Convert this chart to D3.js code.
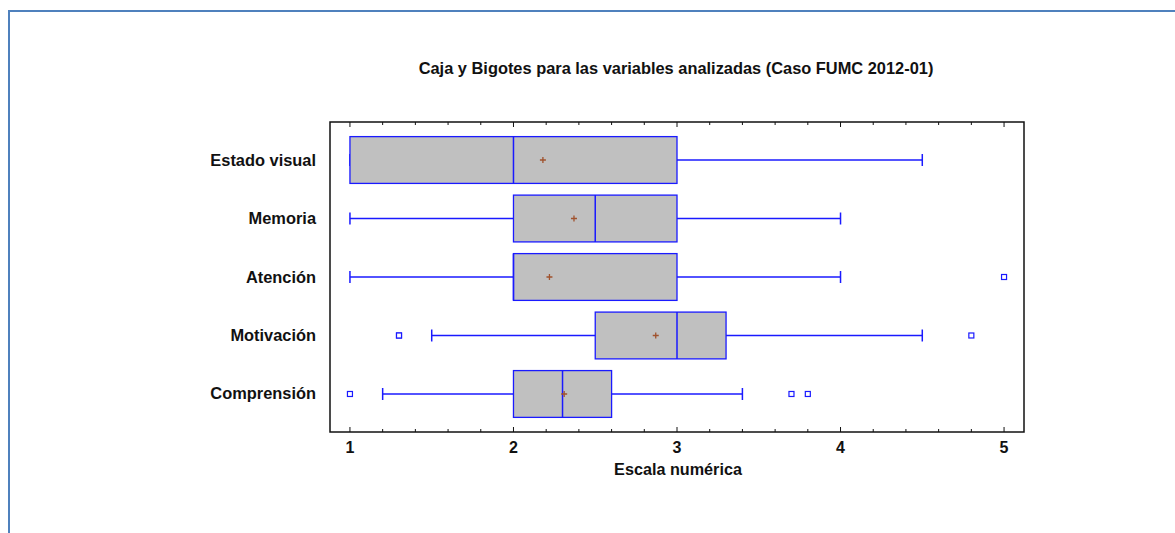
<!DOCTYPE html>
<html>
<head>
<meta charset="utf-8">
<script src="https://cdn.jsdelivr.net/npm/d3@7"></script>
<style>
body { margin: 0; background: #fff; }
svg text { font-family: "Liberation Sans", Arial, sans-serif; font-weight: bold; fill: #111; }
</style>
</head>
<body>
<div id="chart"></div>
<script>
var width = 1175;
var height = 533;

// one entry per box, top to bottom
var categories = ["Estado visual", "Memoria", "Atención", "Motivación", "Comprensión"];
var whiskerLow = [1, 1, 1, 1.5, 1.2];
var q1 = [1, 2, 2, 2.5, 2];
var medians = [2, 2.5, 2, 3, 2.3];
var q3 = [3, 3, 3, 3.3, 2.6];
var whiskerHigh = [4.5, 4, 4, 4.5, 3.4];
var means = [2.18, 2.37, 2.22, 2.87, 2.31];
var outliers = [[], [], [5], [1.3, 1.3, 4.8], [1, 3.7, 3.8]];
var xTicks = [1, 2, 3, 4, 5];

var title = "Caja y Bigotes para las variables analizadas (Caso FUMC 2012-01)";
var xTitle = "Escala numérica";

var plot = {left: 330, top: 122, right: 1024, bottom: 432};

var svg = d3.select("#chart").append("svg")
	.attr("width", width)
	.attr("height", height);

// outer blue frame (only left and top visible)
svg.append("path")
	.attr("d", "M9," + height + " V11 H" + width)
	.attr("fill", "none")
	.attr("stroke", "#4f81bd")
	.attr("stroke-width", 2);

var x = d3.scaleLinear()
	.domain([0.878, 5.122])
	.range([plot.left, plot.right]);

var y = d3.scalePoint()
	.domain(categories)
	.range([plot.top, plot.bottom])
	.padding(0.65);

var boxH = y.step() * 0.8;
var capH = 12;

// plot frame
svg.append("rect")
	.attr("x", plot.left)
	.attr("y", plot.top)
	.attr("width", plot.right - plot.left)
	.attr("height", plot.bottom - plot.top)
	.attr("fill", "none")
	.attr("stroke", "#111")
	.attr("stroke-width", 1.5);

// ticks inside the frame, bottom and top
var minorTicks = d3.range(1, 5.001, 0.2);
var tickLen = function(v) { return Math.abs(v - Math.round(v)) < 1e-6 ? 5 : 3; };

svg.append("g").selectAll("line").data(minorTicks).enter()
	.append("line")
	.attr("x1", function(d) { return x(d); })
	.attr("x2", function(d) { return x(d); })
	.attr("y1", plot.bottom)
	.attr("y2", function(d) { return plot.bottom - tickLen(d); })
	.attr("stroke", "#111");

svg.append("g").selectAll("line").data(minorTicks).enter()
	.append("line")
	.attr("x1", function(d) { return x(d); })
	.attr("x2", function(d) { return x(d); })
	.attr("y1", plot.top)
	.attr("y2", function(d) { return plot.top + tickLen(d); })
	.attr("stroke", "#111");

svg.append("g").selectAll("text").data(xTicks).enter()
	.append("text")
	.attr("x", function(d) { return x(d); })
	.attr("y", 453)
	.attr("text-anchor", "middle")
	.style("font-size", "16px")
	.text(function(d) { return d; });

svg.append("text")
	.attr("x", (plot.left + plot.right) / 2 + 1)
	.attr("y", 475)
	.attr("text-anchor", "middle")
	.style("font-size", "16.2px")
	.text(xTitle);

svg.append("text")
	.attr("x", (plot.left + plot.right) / 2 - 1)
	.attr("y", 74)
	.attr("text-anchor", "middle")
	.style("font-size", "16.4px")
	.text(title);

// category labels
svg.append("g").selectAll("text").data(categories).enter()
	.append("text")
	.attr("x", 316)
	.attr("y", function(d) { return y(d) + 5.5; })
	.attr("text-anchor", "end")
	.style("font-size", "16.4px")
	.text(function(d) { return d; });

var blue = "#1a1aff";
var rows = categories.map(function(c, i) {
	return {cat: c, lo: whiskerLow[i], q1: q1[i], med: medians[i], q3: q3[i], hi: whiskerHigh[i], mean: means[i], out: outliers[i]};
});

var g = svg.append("g");
var row = g.selectAll(".row").data(rows).enter().append("g").attr("class", "row");

// whiskers
row.append("line")
	.attr("x1", function(d) { return x(d.lo); })
	.attr("x2", function(d) { return x(d.q1); })
	.attr("y1", function(d) { return y(d.cat); })
	.attr("y2", function(d) { return y(d.cat); })
	.attr("stroke", blue).attr("stroke-width", 1.3);
row.append("line")
	.attr("x1", function(d) { return x(d.q3); })
	.attr("x2", function(d) { return x(d.hi); })
	.attr("y1", function(d) { return y(d.cat); })
	.attr("y2", function(d) { return y(d.cat); })
	.attr("stroke", blue).attr("stroke-width", 1.3);
// caps
[["lo"], ["hi"]].forEach(function(k) {
	row.append("line")
		.attr("x1", function(d) { return x(d[k[0]]); })
		.attr("x2", function(d) { return x(d[k[0]]); })
		.attr("y1", function(d) { return y(d.cat) - capH / 2; })
		.attr("y2", function(d) { return y(d.cat) + capH / 2; })
		.attr("stroke", blue).attr("stroke-width", 1.5);
});

// boxes
row.append("rect")
	.attr("x", function(d) { return x(d.q1); })
	.attr("y", function(d) { return y(d.cat) - boxH / 2; })
	.attr("width", function(d) { return x(d.q3) - x(d.q1); })
	.attr("height", boxH)
	.attr("fill", "#c0c0c0")
	.attr("stroke", blue)
	.attr("stroke-width", 1.3);

// medians
row.append("line")
	.attr("x1", function(d) { return x(d.med); })
	.attr("x2", function(d) { return x(d.med); })
	.attr("y1", function(d) { return y(d.cat) - boxH / 2; })
	.attr("y2", function(d) { return y(d.cat) + boxH / 2; })
	.attr("stroke", blue).attr("stroke-width", 1.5);

// means as small plus signs
row.append("path")
	.attr("d", function(d) {
		var cx = x(d.mean), cy = y(d.cat);
		return "M" + (cx - 3) + "," + cy + "H" + (cx + 3) + "M" + cx + "," + (cy - 3) + "V" + (cy + 3);
	})
	.attr("stroke", "#a0522d")
	.attr("stroke-width", 1.3)
	.attr("fill", "none");

// outliers
row.each(function(d) {
	d3.select(this).selectAll(".out").data(d.out).enter()
		.append("rect")
		.attr("class", "out")
		.attr("x", function(v) { return x(v) - 2.5; })
		.attr("y", y(d.cat) - 2.5)
		.attr("width", 5)
		.attr("height", 5)
		.attr("fill", "#fff")
		.attr("stroke", blue)
		.attr("stroke-width", 1.2);
});
</script>
</body>
</html>
